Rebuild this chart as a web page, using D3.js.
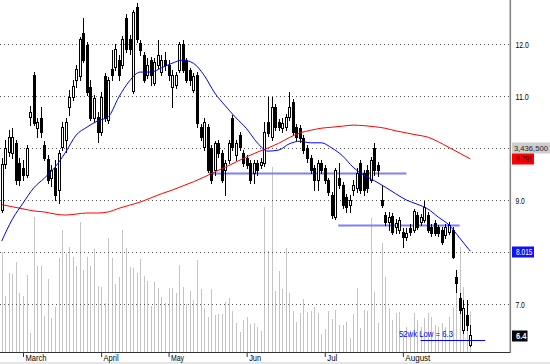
<!DOCTYPE html>
<html><head><meta charset="utf-8">
<script src="https://cdn.jsdelivr.net/npm/d3@7"></script>
<style>html,body{margin:0;padding:0;background:#fff;overflow:hidden}</style>
</head><body><svg id="c" width="550" height="364"></svg>
<script>
// ---------- DATA ----------
const monthLabels = ["March","April","May","Jun","Jul","August"];
const monthStart  = [6, 28, 47, 69, 91, 113];
const priceTicks  = [7, 8, 9, 10, 11, 12];
const priceLabels = [7, 9, 11, 12]; // 8.0 and 10.0 are hidden under the value boxes

const open = [
8.81,9.69,9.92,9.90,10.10,9.71,9.62,9.48,10.60,11.40,
10.38,10.58,10.06,9.79,9.42,9.62,9.19,10.02,10.15,10.79,
10.98,11.31,11.38,12.21,11.98,11.17,10.58,10.60,10.31,11.38,
10.54,11.52,11.56,11.69,11.60,12.50,12.10,11.10,12.71,12.02,
11.79,11.40,11.69,11.25,11.60,11.46,11.69,11.60,11.17,11.21,
11.50,12.00,11.69,11.50,11.12,11.40,10.40,10.02,10.40,10.00,
9.58,10.10,9.90,9.58,9.77,10.58,9.87,10.25,9.90,9.81,
9.71,9.52,9.71,9.67,9.71,10.50,10.21,10.79,10.50,10.38,
10.40,10.60,10.88,10.40,10.38,10.19,10.00,9.81,9.62,9.38,
9.71,9.62,9.38,9.10,8.67,9.42,9.29,9.06,8.90,9.19,
9.23,9.71,9.52,9.58,9.38,10.00,9.67,9.00,8.71,8.58,
8.69,8.48,8.42,8.38,8.29,8.46,8.42,8.71,8.58,8.62,
8.71,8.48,8.56,8.48,8.42,8.33,8.38,8.42,7.52,7.12,
6.50,6.79,6.21];
const high = [
9.81,10.15,10.35,10.38,10.15,9.81,9.77,10.06,10.81,11.46,
10.58,10.79,10.13,9.87,9.67,9.77,9.96,10.50,10.58,11.12,
11.31,11.60,12.13,12.50,12.04,11.31,11.02,10.69,11.08,11.44,
11.37,11.88,12.00,11.79,12.15,12.58,12.17,12.65,12.79,12.08,
11.85,11.73,11.75,11.73,12.08,11.79,11.85,11.69,11.50,11.46,
12.04,12.08,11.73,11.54,11.44,11.46,10.46,10.58,10.46,10.06,
10.13,10.15,9.96,9.77,10.15,10.63,10.15,10.31,9.96,9.87,
9.77,9.77,9.77,9.81,10.50,10.98,10.98,10.85,10.56,10.58,
10.65,11.08,10.94,10.46,10.44,10.25,10.06,9.87,9.67,9.77,
9.77,9.67,9.42,9.15,9.62,9.71,9.35,9.12,9.10,9.38,
9.62,9.77,9.58,9.67,9.83,10.10,9.73,9.29,8.77,8.77,
8.75,8.63,8.67,8.46,8.46,8.54,8.83,8.77,8.73,8.98,
8.77,8.54,8.62,8.52,8.48,8.54,8.58,8.48,7.65,7.21,
7.08,7.08,6.60];
const low = [
8.77,9.62,9.85,9.81,9.31,9.29,9.38,9.44,10.44,10.44,
10.21,10.21,9.77,9.33,9.27,9.00,8.94,9.96,9.92,10.63,
10.92,11.17,11.31,11.65,11.02,10.54,10.50,10.12,10.25,10.52,
10.48,11.31,11.50,11.31,11.54,11.85,11.81,11.06,12.04,11.79,
11.27,11.35,11.21,11.21,11.54,11.40,11.50,11.31,10.79,11.15,
11.46,11.46,11.27,11.21,11.08,10.40,10.15,9.96,9.54,9.33,
9.48,9.83,9.35,9.10,9.71,9.96,9.77,9.96,9.65,9.62,
9.33,9.33,9.48,9.62,9.65,10.23,10.15,10.35,10.35,10.31,
10.35,10.54,10.25,10.15,10.12,9.90,9.73,9.52,9.19,9.19,
9.52,9.33,9.10,8.65,8.63,9.23,8.85,8.77,8.77,9.10,
9.15,9.13,9.10,9.15,9.35,9.48,9.46,8.87,8.52,8.42,
8.35,8.37,8.37,8.10,8.23,8.33,8.38,8.44,8.52,8.58,
8.38,8.31,8.33,8.31,8.15,8.27,8.35,7.88,7.23,6.83,
6.44,6.50,6.19];
const close = [
9.69,10.00,10.21,10.21,9.38,9.38,9.48,10.00,10.69,10.48,
10.50,10.31,9.81,9.38,9.58,9.10,9.90,10.40,10.50,10.98,
11.19,11.52,12.10,11.69,11.08,10.58,10.96,10.31,10.98,10.58,
11.31,11.40,11.90,11.40,12.10,11.90,11.90,12.62,12.10,11.88,
11.31,11.60,11.40,11.65,11.79,11.69,11.60,11.40,11.40,11.40,
12.00,11.50,11.31,11.31,11.38,10.48,10.21,10.50,9.58,9.38,
10.10,9.90,9.38,9.71,10.10,10.02,10.10,10.02,9.71,9.67,
9.38,9.71,9.58,9.73,10.31,10.29,10.79,10.40,10.40,10.48,
10.60,10.79,10.31,10.21,10.19,9.96,9.81,9.58,9.38,9.71,
9.58,9.38,9.15,8.71,9.58,9.29,8.90,8.87,9.00,9.29,
9.52,9.19,9.19,9.23,9.77,9.58,9.58,8.90,8.58,8.67,
8.38,8.56,8.62,8.29,8.37,8.38,8.79,8.48,8.67,8.87,
8.42,8.37,8.37,8.37,8.19,8.48,8.52,7.90,7.40,6.88,
6.92,6.60,6.40];
// volume, thousands of shares
const volume = [
8590,4810,6790,6700,7730,5070,4810,6610,1630,11600,
7390,7390,3090,6270,2920,3870,8070,10480,8500,9020,
8160,7390,11170,7040,8160,7390,8850,5670,5580,4210,
9790,8070,5840,6440,10480,8930,7300,7220,6790,7990,
6530,6100,3950,6010,5500,4720,4210,5500,5500,5070,
7470,5580,4120,5240,4470,7900,5410,3780,3010,5410,
3180,3260,3260,4300,4640,3520,2490,1720,2750,3010,
2410,2490,2150,1800,12460,8680,15890,5240,6960,5410,
8930,5070,3520,2580,3350,4550,3440,3520,3870,3350,
1550,1980,3520,2830,3610,2320,2320,2580,1200,3260,
5500,2060,3610,3520,11510,5150,2490,9360,6440,3780,
2750,3350,3440,1720,2150,1890,3350,2750,2150,2920,
3350,3010,2320,2150,2490,2150,3010,3870,5330,9020,
5580,3870,3436.5];
// moving averages, sampled every 3rd bar (index 0,3,...,132)
const maStep = 3;
const maShort = [8.21,8.63,8.94,9.23,9.42,9.63,9.92,10.25,10.40,10.52,
10.60,10.98,11.29,11.46,11.46,11.54,11.63,11.69,11.63,11.40,
11.06,10.81,10.58,10.37,10.10,9.94,9.96,10.08,10.13,10.10,
10.10,10.00,9.85,9.63,9.48,9.37,9.25,9.12,9.00,8.92,
8.83,8.67,8.52,8.27,8.015];
const maLong = [8.91,8.87,8.83,8.79,8.77,8.73,8.71,8.73,8.75,8.75,
8.77,8.84,8.90,8.96,9.04,9.12,9.19,9.27,9.35,9.44,
9.54,9.63,9.73,9.83,9.92,10.00,10.09,10.20,10.29,10.34,
10.38,10.40,10.42,10.44,10.43,10.41,10.38,10.33,10.29,10.25,
10.21,10.12,10.01,9.90,9.791];
// horizontal levels: price, from bar, to bar
const levelPrice = [9.51, 8.51];
const levelFrom  = [58.4, 94.8];
const levelTo    = [114, 129];
const low52 = 6.3, low52From = 118, low52To = 136.2;
const lastVolume = "3,436,500";

// ---------- DRAW ----------
const W = 550, H = 364, plotR = 510, axisY = 352;
const svg = d3.select("#c");
const FONT = "'Liberation Sans Narrow','Arial Narrow','Liberation Sans',Arial,sans-serif";
const n = close.length;
const x = d3.scaleLinear().domain([0, 132]).range([1.7, 470.3]);
const y = d3.scaleLinear().domain([7, 12]).range([304, 44]);
const yv = d3.scaleLinear().domain([0, 10000]).range([axisY, axisY - 116.4]);
const bars = d3.range(n).map(i => ({i, o: open[i], h: high[i], l: low[i], c: close[i], v: volume[i]}));

svg.append("rect").attr("width", W).attr("height", H).attr("fill", "#fff");
svg.append("rect").attr("x", 0).attr("y", 362).attr("width", W).attr("height", 2).attr("fill", "#e6e6e6");

// volume
svg.append("g").attr("shape-rendering", "crispEdges")
  .selectAll("rect").data(bars).join("rect")
  .attr("x", d => Math.round(x(d.i)))
  .attr("width", 1)
  .attr("y", d => Math.round(yv(d.v)))
  .attr("height", d => axisY - Math.round(yv(d.v)))
  .attr("fill", "#c4c4c4");

// grid
svg.append("g").selectAll("line").data(priceTicks).join("line")
  .attr("x1", 0).attr("x2", plotR - 1)
  .attr("y1", d => Math.round(y(d)) + 0.5).attr("y2", d => Math.round(y(d)) + 0.5)
  .attr("stroke", "#555").attr("stroke-dasharray", "1,3");

// support / resistance levels
svg.append("g").selectAll("line").data(levelPrice).join("line")
  .attr("x1", (d, k) => x(levelFrom[k])).attr("x2", (d, k) => x(levelTo[k]))
  .attr("y1", d => y(d)).attr("y2", d => y(d))
  .attr("stroke", "#7f7fff").attr("stroke-width", 2);

// candles
const cg = svg.append("g").attr("shape-rendering", "crispEdges");
cg.selectAll("line").data(bars).join("line")
  .attr("x1", d => Math.round(x(d.i)) + 0.5).attr("x2", d => Math.round(x(d.i)) + 0.5)
  .attr("y1", d => Math.round(y(d.h))).attr("y2", d => Math.round(y(d.l)) + 1)
  .attr("stroke", "#000");
cg.selectAll("rect").data(bars).join("rect")
  .attr("x", d => Math.round(x(d.i)) - 0.5)
  .attr("width", 2)
  .attr("y", d => Math.round(y(Math.max(d.o, d.c))) + 0.5)
  .attr("height", d => Math.max(1, Math.round(y(Math.min(d.o, d.c))) - Math.round(y(Math.max(d.o, d.c)))))
  .attr("fill", d => d.c >= d.o ? "#fff" : "#000")
  .attr("stroke", "#000");

// moving averages
const maLine = d3.line().x((d, k) => x(k * maStep)).y(d => y(d)).curve(d3.curveMonotoneX);
svg.append("path").attr("d", maLine(maLong)).attr("fill", "none").attr("stroke", "#ff0000").attr("stroke-width", 1);
svg.append("path").attr("d", maLine(maShort)).attr("fill", "none").attr("stroke", "#0000ff").attr("stroke-width", 1);

// 52 week low
svg.append("line").attr("x1", x(low52From)).attr("x2", x(low52To))
  .attr("y1", Math.round(y(low52)) + 0.5).attr("y2", Math.round(y(low52)) + 0.5)
  .attr("stroke", "#0000ff");
svg.append("text").attr("x", 399).attr("y", 337).attr("font-family", FONT).attr("font-size", 9.5)
  .attr("fill", "#0000ff").attr("textLength", 54).attr("lengthAdjust", "spacingAndGlyphs")
  .text("52wk Low = " + low52);

// right axis line
svg.append("rect").attr("x", plotR - 0.5).attr("y", 0).attr("width", 1.6).attr("height", axisY + 1).attr("fill", "#888");
// bottom axis line
svg.append("line").attr("x1", 0).attr("x2", plotR).attr("y1", axisY + 0.5).attr("y2", axisY + 0.5)
  .attr("stroke", "#333").attr("shape-rendering", "crispEdges");

// price axis labels
const yAxis = d3.axisRight(y).tickValues(priceLabels).tickFormat(d3.format(".1f")).tickSize(0).tickPadding(0);
const ya = svg.append("g").attr("transform", `translate(${plotR + 5.5},0)`).call(yAxis);
ya.select(".domain").remove();
ya.selectAll("text").attr("font-family", FONT).attr("font-size", 9.5).attr("fill", "#000")
  .attr("dy", "0.35em").attr("textLength", d => d >= 10 ? 13.3 : 9.3).attr("lengthAdjust", "spacingAndGlyphs");

// month axis
const xAxis = d3.axisBottom(x).tickValues(monthStart).tickFormat((d, k) => monthLabels[k]).tickSize(4).tickSizeOuter(0);
const xa = svg.append("g").attr("transform", `translate(0,${axisY + 1})`).call(xAxis);
xa.select(".domain").remove();
xa.selectAll("line").attr("stroke", "#333");
const mWidth = {March: 21, April: 15, May: 13, Jun: 12, Jul: 10, August: 25};
xa.selectAll("text").attr("font-family", FONT).attr("font-size", 9.5).attr("fill", "#000")
  .attr("text-anchor", "start").attr("dx", 2).attr("y", 0).attr("dy", 7.5)
  .attr("textLength", (d, k) => mWidth[monthLabels[k]]).attr("lengthAdjust", "spacingAndGlyphs");

// value boxes on right
function box(val, by, bw, fill, col, tw, bold, tx, fs) {
  svg.append("rect").attr("x", plotR + 2).attr("y", by).attr("width", bw).attr("height", 11).attr("fill", fill);
  svg.append("text").attr("x", tx || plotR + 6).attr("y", by + 8.8).attr("font-family", FONT).attr("font-size", fs || 9.5)
    .attr("font-weight", bold ? "bold" : "normal")
    .attr("fill", col).attr("textLength", tw).attr("lengthAdjust", "spacingAndGlyphs").text(val);
}
box(lastVolume, 142.5, 38, "#cfcfcf", "#222", 34, false, plotR + 4, 8);
box(d3.format(".3f")(maLong[maLong.length - 1]), 153.5, 22, "#ff0000", "#400000", 16.5, false);
box(d3.format(".3f")(maShort[maShort.length - 1]), 246.5, 22, "#1010ff", "#fff", 16.5, false);
box(d3.format(".1f")(close[n - 1]), 330.5, 15.5, "#000", "#fff", 10.5, true);
</script></body></html>
